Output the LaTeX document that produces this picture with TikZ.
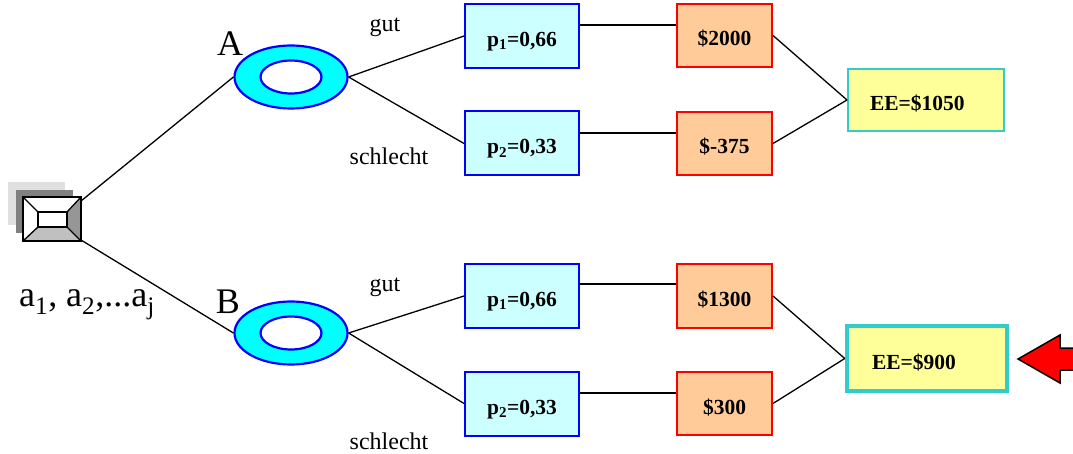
\documentclass[tikz,border=0pt]{standalone}
\usepackage{fontspec}
\setmainfont{Liberation Serif}
\usetikzlibrary{shapes.geometric,calc}
\definecolor{pfill}{HTML}{CCFFFF}
\definecolor{pdraw}{HTML}{0000FF}
\definecolor{ofill}{HTML}{FFCC99}
\definecolor{odraw}{HTML}{FF0000}
\definecolor{efill}{HTML}{FFFF99}
\definecolor{edraw}{HTML}{33CCCC}
\definecolor{cfill}{HTML}{00FFFF}
\definecolor{lgray}{HTML}{E0E0E0}
\definecolor{dgray}{HTML}{808080}
\definecolor{rgray}{HTML}{969696}
\definecolor{bgray}{HTML}{C0C0C0}
\tikzset{
  boxtext/.style={font=\fontsize{21.5}{25}\selectfont\bfseries, text height=21pt, text depth=0pt},
  pbox/.style={boxtext, draw=pdraw, fill=pfill, line width=2pt, minimum width=114pt, minimum height=64pt, inner sep=0pt},
  obox/.style={boxtext, draw=odraw, fill=ofill, line width=2pt, minimum width=95pt, minimum height=63pt, inner sep=0pt},
  eebox/.style={boxtext, draw=edraw, fill=efill, align=left, inner ysep=0pt},
  chance/.style={ellipse, draw=pdraw, fill=cfill, line width=2.2pt, minimum width=113pt, minimum height=63pt, inner sep=0pt},
  lbl/.style={font=\fontsize{24}{28}\selectfont},
  big/.style={font=\fontsize{36}{42}\selectfont},
  conn/.style={line width=1.3pt, black},
}
\begin{document}
\begin{tikzpicture}[x=1pt,y=-1pt]
\useasboundingbox (0,0) rectangle (1073,454);
% decision node
\fill[lgray] (8,182) rectangle (65,225);
\fill[dgray] (16,190) rectangle (73,233);
\fill[white] (23,197) rectangle (81,241);
\fill[rgray] (81,197) -- (67,212) -- (67,227) -- (81,241) -- cycle;
\fill[bgray] (23,241) -- (38,227) -- (67,227) -- (81,241) -- cycle;
\draw[line width=1.6pt] (38,212) rectangle (67,227);
\draw[line width=1.3pt] (23,197) -- (38,212) (81,197) -- (67,212) (23,241) -- (38,227) (81,241) -- (67,227);
\draw[line width=2pt] (23,197) rectangle (81,241);
\coordinate (dtop) at (81,201);
\coordinate (dbot) at (81,240);
\node[big] (alist) at (87,305) {a\textsubscript{1}, a\textsubscript{2},...a\textsubscript{j}};

% chance nodes
\node[chance] (A) at (291,77) {};
\draw[draw=pdraw, fill=white, line width=2.2pt] (A.center) ellipse [x radius=30.5pt, y radius=16.5pt];
\node[chance] (B) at (291,333) {};
\draw[draw=pdraw, fill=white, line width=2.2pt] (B.center) ellipse [x radius=30.5pt, y radius=16.5pt];
\node[big] (Alab) at (230,44) {A};
\node[big] (Blab) at (228,302) {B};

% probability boxes
\node[pbox] (pA1) at (522,36) {p\textsubscript{1}=0,66};
\node[pbox] (pA2) at (522,143.5) {p\textsubscript{2}=0,33};
\node[pbox] (pB1) at (522,296) {p\textsubscript{1}=0,66};
\node[pbox] (pB2) at (522,403.5) {p\textsubscript{2}=0,33};

% outcome boxes
\node[obox] (oA1) at (724.5,35.5) {\$2000};
\node[obox] (oA2) at (724.5,143.5) {\$-375};
\node[obox] (oB1) at (724.5,296) {\$1300};
\node[obox] (oB2) at (724.5,403.5) {\$300};

% expected values
\node[eebox, line width=2pt, text width=112pt, inner xsep=22pt, minimum height=62pt] (eA) at (926,100) {EE=\$1050};
\node[eebox, line width=4.5pt, text width=110pt, inner xsep=25pt, minimum height=65pt] (eB) at (927,358.5) {EE=\$900};

% labels
\node[lbl] (gA) at (385,27) {gut};
\node[lbl] (sA) at (389,156) {schlecht};
\node[lbl] (gB) at (385,287) {gut};
\node[lbl] (sB) at (389,441) {schlecht};

% connectors
\draw[conn] (dtop) -- (A.west);
\draw[conn] (dbot) -- (B.west);
\draw[conn] (A.east) -- (pA1.west);
\draw[conn] (A.east) -- (pA2.west);
\draw[conn] (B.east) -- (pB1.west);
\draw[conn] (B.east) -- (pB2.west);
\draw[conn] ($(pA1.east)+(0,-11)$) -- ($(oA1.west)+(0,-10.5)$);
\draw[conn] ($(pA2.east)+(0,-10.5)$) -- ($(oA2.west)+(0,-10.5)$);
\draw[conn] ($(pB1.east)+(0,-12)$) -- ($(oB1.west)+(0,-12)$);
\draw[conn] ($(pB2.east)+(0,-10.5)$) -- ($(oB2.west)+(0,-10.5)$);
\draw[conn] (oA1.east) -- (eA.west);
\draw[conn] (oA2.east) -- (eA.west);
\draw[conn] (oB1.east) -- (eB.west);
\draw[conn] (oB2.east) -- (eB.west);

% red arrow
\draw[fill=red, line width=1.5pt, line join=miter] (1018,359) -- (1060,335) -- (1060,348) -- (1085,348) -- (1085,370) -- (1060,370) -- (1060,383) -- cycle;
\end{tikzpicture}
\end{document}
